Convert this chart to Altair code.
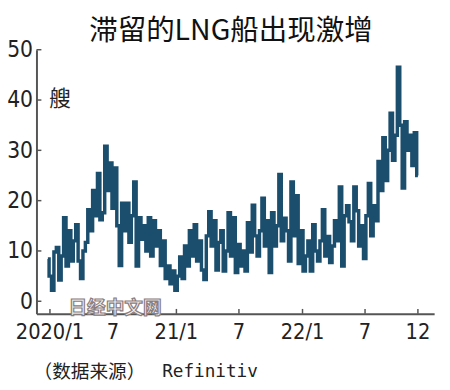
import altair as alt
import pandas as pd

# Weekly count of idle LNG carriers, starting 2019-12-26
ships = [
    8.4, 5, 2.2, 9.8, 10.7, 4.2, 9, 16.6, 7, 14, 8, 12,
    15.2, 8, 4.5, 10, 11.7, 18.2, 14, 22, 17, 25.4, 16.2, 17.6,
    30.8, 22, 27.5, 18.5, 26.5, 15, 7.1, 19.5, 14, 19.5, 11.7, 17,
    23.7, 7, 16.6, 12.3, 15, 10, 16.6, 9, 16, 11, 14, 7.1,
    12, 4.5, 7, 3.5, 6, 2.2, 5, 8.8, 4.5, 11, 7, 14,
    9, 15.2, 8, 12, 6.2, 4.3, 13, 17.8, 11, 16, 6.2, 11.7,
    14, 6, 10, 17.6, 9, 16.6, 5.7, 11.3, 7, 10, 6, 15.6,
    9.8, 19.1, 13, 9, 14, 20.5, 11, 16, 5.7, 17.6, 11, 15,
    25.2, 12, 16.5, 14, 8, 23.7, 13, 21, 7.5, 14, 6, 9,
    12, 6, 15.2, 10, 8, 12, 18.2, 9, 12.9, 7.7, 11, 16,
    12, 22.7, 7, 17, 19, 15.8, 12, 22.7, 18, 11, 15, 8.5,
    17, 23.4, 13, 19, 16, 27.8, 22, 32.5, 24, 30, 37.4, 28,
    33, 46.5, 35, 22.5, 35.7, 30, 33, 27, 33.5, 25,
]
dates = pd.date_range("2019-12-26", periods=len(ships), freq="7D")
df = pd.DataFrame({"date": dates.strftime("%Y-%m-%dT00:00:00"), "ships": ships})

x_tick_dates = ["2020-01-01", "2020-07-01", "2021-01-01", "2021-07-01",
                "2022-01-01", "2022-07-01", "2022-12-01"]
x_tick_labels = ["2020/1", "7", "21/1", "7", "22/1", "7", "12"]
xt = pd.DataFrame({"date": [d + "T00:00:00" for d in x_tick_dates], "label": x_tick_labels})

y_ticks = [0, 10, 20, 30, 40, 50]
yt = pd.DataFrame({"v": y_ticks})

W, H = 405, 269
NUM_FONT = "Liberation Sans Narrow, DejaVu Sans Condensed, Noto Sans CJK SC, sans-serif"
CJK_FONT = "Noto Sans CJK SC"
AX = "#555555"

x_scale = alt.Scale(domain=[alt.DateTime(year=2019, month=11, date=23),
                            alt.DateTime(year=2023, month=1, date=17)])
y_scale = alt.Scale(domain=[-2.5, 50], nice=False, zero=False)

line = alt.Chart(df).mark_line(color="#1b4d6d", strokeWidth=3.5, interpolate="step").encode(
    x=alt.X("date:T", scale=x_scale,
            axis=alt.Axis(title=None, labels=False, ticks=False, grid=False,
                          domainColor=AX, domainWidth=2)),
    y=alt.Y("ships:Q", scale=y_scale,
            axis=alt.Axis(title=None, values=y_ticks, ticks=False, grid=False,
                          domainColor=AX, domainWidth=2, labelPadding=4,
                          labelFont=NUM_FONT, labelFontSize=23, labelColor="#222222")),
)

x_ticks = alt.Chart(xt).mark_rule(color=AX, strokeWidth=1.5).encode(
    x=alt.X("date:T", scale=x_scale), y=alt.value(H), y2=alt.value(H - 5))
x_labels = alt.Chart(xt).mark_text(baseline="top", fontSize=22, font=NUM_FONT,
                                   color="#222222").encode(
    x=alt.X("date:T", scale=x_scale), y=alt.value(H + 9), text="label:N")
y_tick_marks = alt.Chart(yt).mark_rule(color=AX, strokeWidth=1.5).encode(
    y=alt.Y("v:Q", scale=y_scale), x=alt.value(0), x2=alt.value(5))

def note(txt, x, y, size, font=CJK_FONT, align="center", **kw):
    return alt.Chart(pd.DataFrame({"t": [txt]})).mark_text(
        align=align, baseline="middle", fontSize=size, font=font, **kw
    ).encode(x=alt.value(x), y=alt.value(y), text="t:N")

title = note("滞留的LNG船出现激增", 198, -19, 29, color="#111111")
unit = note("艘", 24, 50, 22, color="#222222")
src1 = note("（数据来源）", -3, 328, 19, align="left", color="#222222")
src2 = note("Refinitiv", 128, 328, 18, font="DejaVu Sans Mono", align="left", color="#222222")
mark_wm = note("日经中文网", 80, 263, 19, fontWeight="bold", color="#f4f0f0",
               stroke="#8a7d7d", strokeWidth=1.2)

chart = alt.layer(line, x_ticks, y_tick_marks, x_labels, title, unit, src1, src2, mark_wm).properties(
    width=W, height=H,
    autosize=alt.AutoSizeParams(type="none"),
    padding={"left": 29, "top": 39, "right": 8, "bottom": 70},
).configure_view(stroke=None)

chart.save("out.html", embed_options={"renderer": "svg", "actions": False})
